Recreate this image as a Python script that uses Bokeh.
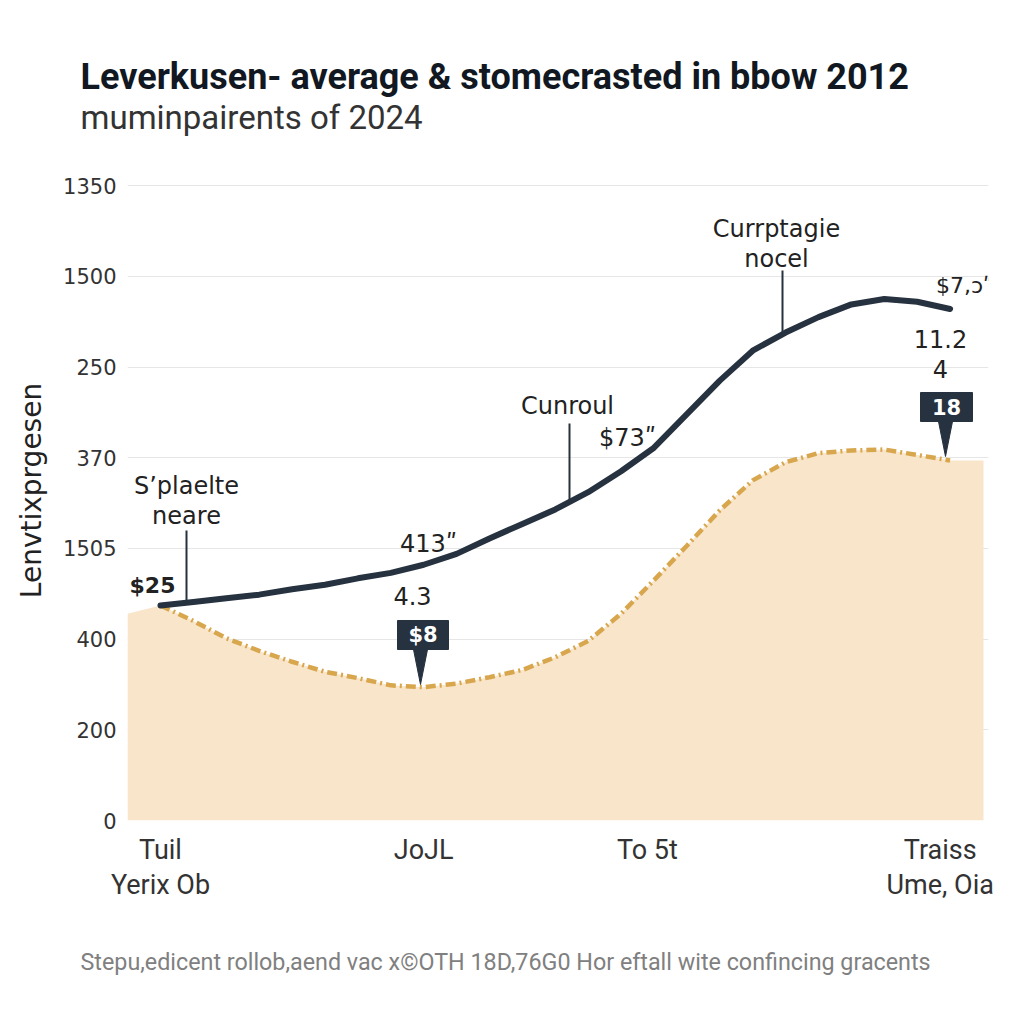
from bokeh.plotting import figure
from bokeh.models import Range1d, Label, FixedTicker, Title
from bokeh.embed import file_html
from bokeh.resources import INLINE

# ---- data ----
months = [0, 0.5, 1, 1.5, 2, 2.5, 3, 3.5, 4, 4.5, 5, 5.5, 6, 6.5, 7, 7.5, 8, 8.5,
          9, 9.5, 10, 10.5, 11, 11.5, 12]
average_line = [237, 241, 245, 249, 255, 260, 267, 273, 282, 294, 311, 327, 343,
                362, 385, 411, 448, 485, 518, 538, 555, 569, 575, 572, 564]
forecast_area = [237, 220, 201, 187, 175, 164, 157, 149, 147, 151, 158, 166, 180,
                 198, 228, 265, 303, 342, 375, 395, 405, 408, 409, 403, 397]
area_left, area_right = 228, 397

y_ticks = [0, 100, 200, 300, 400, 500, 600, 700]
y_tick_labels = ["0", "200", "400", "1505", "370", "250", "1500", "1350"]
x_ticks = [0, 4, 7.4, 11.85]
x_tick_labels = ["Tuil\nYerix Ob", "JoJL", "To 5t", "Traiss\nUme, Oia"]

title = "Leverkusen- average & stomecrasted in bbow 2012"
subtitle = "muminpairents of 2024"
footer = "Stepu,edicent rollob,aend vac x©OTH 18D,76G0 Hor eftall wite confincing gracents"
y_label = "Lenvtixprgesen"

DARK = "#26323f"
GOLD = "#d8a64c"
FILL = "#f8e5ca"
ANN_FONT = "DejaVu Sans"

# page-pixel -> data helpers (for annotation placement only)
def dx(px):
    return (px - 160) / 65.8

def dy(py):
    return (820 - py) / 0.907

p = figure(width=1008, height=1016, output_backend="svg", toolbar_location=None,
           x_range=Range1d(dx(127), dx(988)), y_range=Range1d(0, dy(160)),
           min_border_left=127, min_border_right=20, min_border_top=160,
           min_border_bottom=196)
p.outline_line_color = None
p.background_fill_color = "white"
p.border_fill_color = "white"
p.xgrid.grid_line_color = None
p.ygrid.grid_line_color = "#e6e6e6"
p.ygrid.grid_line_width = 1

p.yaxis.ticker = FixedTicker(ticks=y_ticks)
p.yaxis.major_label_overrides = {t: l for t, l in zip(y_ticks, y_tick_labels)}
p.yaxis.axis_line_color = None
p.yaxis.major_tick_line_color = None
p.yaxis.minor_tick_line_color = None
p.yaxis.major_label_text_font = ANN_FONT
p.yaxis.major_label_text_font_size = "21px"
p.yaxis.major_label_text_color = "#333333"
p.yaxis.major_label_standoff = 5
p.yaxis.axis_label = y_label
p.yaxis.axis_label_text_font = ANN_FONT
p.yaxis.axis_label_text_font_size = "28px"
p.yaxis.axis_label_text_font_style = "normal"
p.yaxis.axis_label_text_color = "#222222"
p.yaxis.axis_label_standoff = 12

p.xaxis.ticker = FixedTicker(ticks=x_ticks)
p.xaxis.major_label_overrides = {t: l for t, l in zip(x_ticks, x_tick_labels)}
p.xaxis.axis_line_color = None
p.xaxis.major_tick_line_color = None
p.xaxis.minor_tick_line_color = None
p.xaxis.major_label_text_font = "Roboto"
p.xaxis.major_label_text_font_size = "27px"
p.xaxis.major_label_text_line_height = 1.12
p.xaxis.major_label_text_color = "#333333"
p.xaxis.major_label_standoff = 7

# area + lines
area_x = [dx(127)] + months + [dx(983)]
area_y = [area_left] + forecast_area + [area_right]
p.varea(x=area_x, y1=[0] * len(area_x), y2=area_y, fill_color=FILL)
p.line(months, forecast_area, line_color=GOLD, line_width=4.5, line_dash="10 4 2 4")
p.line(months, average_line, line_color=DARK, line_width=6, line_cap="round",
       line_join="round")

# leader lines
for x, y0, y1 in [(186, 530, 603), (569, 423, 500), (782, 270, 333)]:
    p.segment(x0=[dx(x)], y0=[dy(y0)], x1=[dx(x)], y1=[dy(y1)], line_color=DARK, line_width=2)

# callout boxes
for (l, r, t, b, tipx, tipy, txt) in [(397, 448, 620, 649, 420, 684, "$8"),
                                        (920, 972, 392, 421, 945, 456, "18")]:
    p.quad(left=[dx(l)], right=[dx(r)], top=[dy(t)], bottom=[dy(b)],
           fill_color=DARK, line_color=DARK)
    p.patch(x=[dx(tipx - 7), dx(tipx + 7), dx(tipx)], y=[dy(b), dy(b), dy(tipy)],
            fill_color=DARK, line_color=DARK)
    p.add_layout(Label(x=dx((l + r) / 2), y=dy((t + b) / 2), text=txt,
                       text_align="center", text_baseline="middle",
                       text_color="white", text_font=ANN_FONT,
                       text_font_style="bold", text_font_size="21px"))

def lab(x, y, text, size="24px", style="normal", color="#222222", font=ANN_FONT, align="center"):
    p.add_layout(Label(x=dx(x), y=dy(y), text=text, text_align=align, text_baseline="middle",
                       text_font=font, text_font_size=size, text_font_style=style,
                       text_color=color))

lab(186, 485, "S’plaelte")
lab(186, 515, "neare")
lab(152, 585, "$25", style="bold", size="22px")
lab(428, 543, "413\u02ba")
lab(412, 595, "4.3")
lab(567, 405, "Cunroul")
lab(627, 437, "$73\u02ba")
lab(776, 228, "Currptagie")
lab(776, 258, "nocel")
lab(964, 285, "$7,ɔ\u02ba", size="22px")
lab(940, 338, "11.2")
lab(940, 368, "4")

# titles and footer
p.add_layout(Title(text=subtitle, align="left", offset=-47, standoff=47,
                   text_font="Roboto", text_font_size="33px", text_font_style="normal",
                   text_color="#333333"), "above")
p.add_layout(Title(text=title, align="left", offset=-47, standoff=-50,
                   text_font="Roboto", text_font_size="36px", text_font_style="bold",
                   text_color="#111822"), "above")
p.add_layout(Title(text=footer, align="left", offset=-47, standoff=82,
                   text_font="Roboto", text_font_size="23.3px", text_font_style="normal",
                   text_color="#808080"), "below")

open("out.html", "w").write(file_html(p, INLINE))
